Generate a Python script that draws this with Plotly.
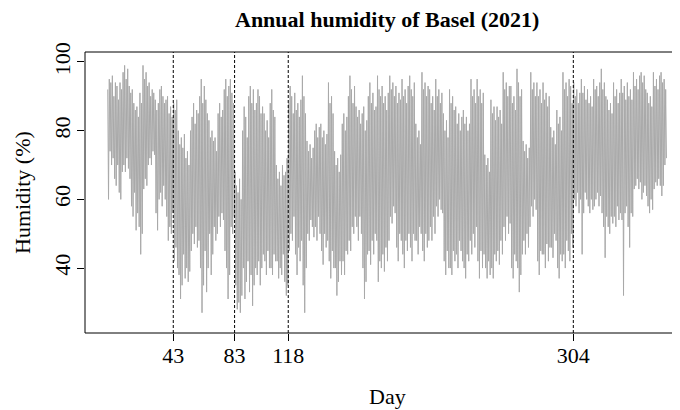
import plotly.graph_objects as go

# Daily maximum / minimum humidity (%) (day 1 .. 365)
DAY_MAX = [
    92, 95, 94, 96, 90, 94, 93, 89, 94, 92,
    97, 99, 95, 98, 93, 91, 92, 88, 86, 87,
    84, 91, 88, 99, 95, 97, 93, 94, 90, 92,
    91, 89, 86, 88, 92, 93, 90, 88, 89, 90, 85, 87, 84,
    88, 86, 89, 80, 76, 78, 75, 79, 72, 74, 70,
    80, 84, 88, 82, 86, 85,
    90, 95, 88,
    93, 89, 85,
    83, 78, 80,
    77, 78, 74,
    85, 88, 84, 86,
    92, 95, 90, 93,
    95, 91, 88,
    68, 64, 62, 66, 60,
    80, 87, 84, 78,
    90, 93, 88, 92, 86,
    88, 92, 90, 85, 87,
    85, 80, 83, 78,
    88, 92, 86, 84,
    70, 66, 68, 64, 70, 67,
    68, 72,
    88, 93, 90, 85,
    91, 86, 88, 84, 89,
    96, 90, 85,
    77, 74, 76, 72, 75,
    80, 82, 78, 81,
    82, 78, 80, 76, 79,
    94, 88, 90, 85,
    74, 70, 72, 68, 73,
    82, 85, 80, 84,
    90, 96, 92, 88, 93,
    87, 84, 86, 82,
    85, 87, 80, 83,
    90, 94, 88, 91, 86,
    87, 96, 92, 90,
    93, 88, 90, 86, 91,
    96, 92, 94, 90,
    93, 88, 91, 89,
    95, 90, 92, 88, 93,
    96, 92, 90, 94,
    82, 78, 80, 76,
    97, 92, 94, 90, 93,
    92, 88, 90, 86,
    95, 90, 92, 88, 91,
    85, 80, 83, 78,
    92, 88, 90, 86,
    87, 82, 85, 80, 84,
    86, 82, 84, 80,
    82, 95, 90, 92, 88,
    95, 90, 92, 88, 91,
    73, 70, 72, 68,
    89, 85, 87, 83,
    87, 84, 86, 82,
    97, 92, 94, 90, 93,
    93, 88, 90, 86,
    98, 94, 90, 92,
    77, 74, 76, 72, 75,
    97, 92, 94, 90,
    94, 90, 92, 88,
    94, 89, 91, 87, 90,
    81, 78, 80, 76,
    86, 82, 84, 80,
    97, 92, 94, 90, 95, 93, 88,
    94, 90, 92, 88, 91,
    95, 91, 93, 89,
    92, 88, 90, 87,
    95, 92, 93, 90, 94,
    98, 92, 94, 90,
    89, 86, 88, 85,
    94, 90, 92, 88, 91,
    95, 91, 93, 89,
    94, 90, 92, 89,
    97, 93, 95, 92, 96,
    97, 94, 96, 92,
    91, 88, 90, 87,
    97, 93, 95, 92, 96,
    97, 94, 95, 92,
]

DAY_MIN = [
    60, 74, 70, 72, 66, 64, 70, 62, 60, 68,
    70, 68, 72, 69, 66, 58, 55, 62, 51, 56,
    52, 44, 50, 63, 66, 64, 70, 72, 70, 74,
    73, 56, 51, 60, 62, 58, 64, 60, 55, 48, 52, 50, 56,
    42, 46, 40, 38, 31, 35, 44, 37, 40, 36, 39,
    45, 50, 47, 52, 46, 48,
    40, 27, 35,
    45, 33, 40,
    50, 38, 44,
    52, 48, 50,
    55, 52, 56, 54,
    45, 40, 31, 38,
    52, 50, 55,
    35, 28, 30, 27, 32,
    40, 31, 36, 42,
    33, 38, 29, 35, 40,
    38, 42, 35, 40, 44,
    42, 38, 45, 40,
    40, 38, 44, 42,
    42, 37, 40, 38, 44, 36,
    32, 35,
    45, 50, 48, 55,
    44, 38, 46, 42, 48,
    35, 27, 40,
    50, 48, 54, 52, 49,
    52, 48, 55, 50,
    45, 41, 50, 46, 48,
    42, 37, 45, 40,
    40, 32, 36, 42, 38,
    42, 38, 45, 44,
    48, 45, 52, 50, 55,
    52, 48, 55, 50,
    40, 31, 36, 44,
    45, 41, 48, 44, 50,
    48, 36, 42, 40,
    44, 39, 46, 42, 48,
    55, 53, 58, 56,
    46, 42, 50, 48,
    44, 40, 48, 45, 50,
    46, 42, 50, 48,
    48, 44, 52, 50,
    45, 42, 50, 46, 48,
    52, 48, 55, 50,
    58, 55, 60, 57, 56,
    42, 38, 45, 40,
    40, 38, 45, 42,
    44, 40, 48, 45, 42,
    40, 37, 44, 42,
    48, 44, 50, 46, 52,
    42, 37, 45, 40, 44,
    40, 37, 42, 38,
    40, 37, 44, 42,
    45, 41, 48, 44,
    52, 48, 55, 50, 53,
    40, 37, 44, 42,
    40, 33, 38, 44,
    48, 44, 50, 46, 52,
    58, 55, 60, 57,
    42, 38, 45, 44,
    44, 40, 47, 42, 46,
    46, 43, 50, 48,
    40, 37, 44, 42,
    44, 40, 48, 45, 42, 50, 46,
    60, 58, 62, 56, 60,
    44, 56, 62, 60,
    58, 56, 60, 57,
    58, 60, 62, 58, 61,
    56, 52, 43, 55,
    52, 50, 55, 53,
    55, 52, 58, 54, 56,
    54, 32, 56, 58,
    52, 46, 56, 55,
    63, 64, 66, 63, 65,
    60, 62, 64, 61,
    58, 56, 60, 57,
    63, 65, 64, 66, 64,
    61, 64, 70, 72,
]

MARK_DAYS = [43, 83, 118, 304]
Y_TICKS = [40, 60, 80, 100]

TITLE = "Annual humidity of Basel (2021)"
X_LABEL = "Day"
Y_LABEL = "Humidity (%)"

assert len(DAY_MAX) == len(DAY_MIN)

# Build an intra-day trace: maximum early in the day, minimum later
xs, ys = [], []
for i, (hi, lo) in enumerate(zip(DAY_MAX, DAY_MIN)):
    xs += [i + 0.25, i + 0.75]
    ys += [hi, lo]

FONT = "Liberation Serif, Times New Roman, serif"

fig = go.Figure()
fig.add_trace(go.Scatter(x=xs, y=ys, mode="lines",
                         line=dict(color="#A9A9A9", width=1),
                         hoverinfo="skip", showlegend=False))

for d in MARK_DAYS:
    fig.add_vline(x=d, line=dict(color="black", width=1, dash="3px,2px"))

# Box (right side falls outside the visible canvas)
for x0, y0, x1, y1 in [(0, 0, 1, 0), (0, 1, 1, 1), (0, 0, 0, 1)]:
    fig.add_shape(type="line", xref="paper", yref="paper",
                  x0=x0, y0=y0, x1=x1, y1=y1,
                  line=dict(color="black", width=1))

# The page body adds an 8px offset; size the figure to fill the rest.
fig.update_layout(
    width=672, height=402,
    margin=dict(l=77, r=0, t=44, b=77, pad=0),
    paper_bgcolor="white", plot_bgcolor="white",
    font=dict(family=FONT, size=22, color="black"),
    showlegend=False,
    xaxis=dict(range=[-14.6, 373.6], tickmode="array", tickvals=MARK_DAYS,
               ticktext=[str(d) for d in MARK_DAYS],
               ticks="outside", ticklen=7, tickcolor="black", tickwidth=1,
               ticklabelstandoff=-4,
               showgrid=False, zeroline=False, showline=False,
               tickfont=dict(family=FONT, size=22)),
    yaxis=dict(range=[21.1, 102.9], tickmode="array", tickvals=Y_TICKS,
               ticks="outside", ticklen=7, tickcolor="black", tickwidth=1,
               tickangle=-90, ticklabelstandoff=-2,
               showgrid=False, zeroline=False, showline=False,
               tickfont=dict(family=FONT, size=22)),
)

cx = (387 - 85) / 595
fig.add_annotation(text="<b>" + TITLE + "</b>", xref="paper", yref="paper",
                   x=cx, y=1, yshift=33, showarrow=False,
                   font=dict(family=FONT, size=22), xanchor="center", yanchor="middle")
fig.add_annotation(text=X_LABEL, xref="paper", yref="paper",
                   x=cx, y=0, yshift=-63, showarrow=False,
                   font=dict(family=FONT, size=22), xanchor="center", yanchor="middle")
fig.add_annotation(text=Y_LABEL, xref="paper", yref="paper",
                   x=0, xshift=-62, y=(333.3 - 193) / 281.6, showarrow=False,
                   textangle=-90,
                   font=dict(family=FONT, size=22), xanchor="center", yanchor="middle")

fig.write_html("out.html")
